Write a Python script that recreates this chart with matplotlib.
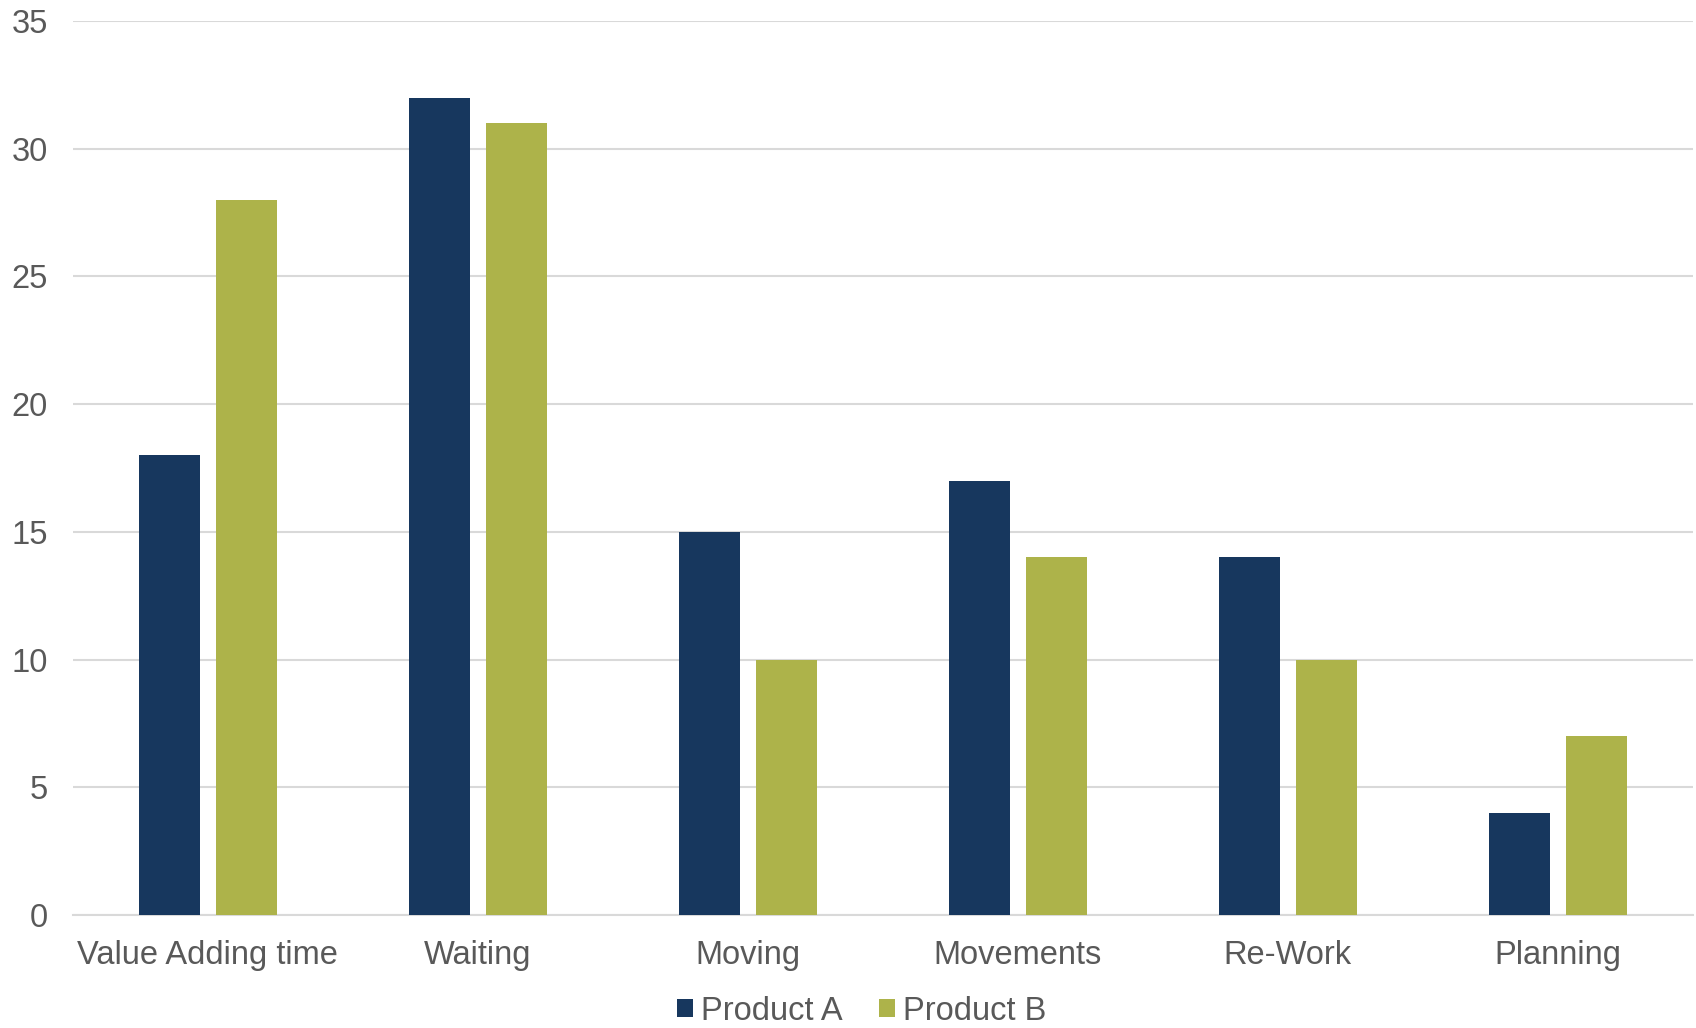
import matplotlib.pyplot as plt
import numpy as np

categories = ['Value Adding time', 'Waiting', 'Moving', 'Movements', 'Re-Work', 'Planning']
product_a = [18, 32, 15, 17, 14, 4]
product_b = [28, 31, 10, 14, 10, 7]
yticks = [0, 5, 10, 15, 20, 25, 30, 35]

plt.rcParams['font.family'] = ['Liberation Sans', 'DejaVu Sans']

fig = plt.figure(figsize=(16.96, 10.28), dpi=100)
ax = fig.add_axes([0.043, 0.110, 0.955, 0.8696])

x = np.arange(len(categories))
w = 0.226
ax.bar(x - 0.143, product_a, w, color='#17375E', label='Product A', zorder=3)
ax.bar(x + 0.143, product_b, w, color='#ADB34A', label='Product B', zorder=3)

ax.set_xlim(-0.5, len(categories) - 0.5)
ax.set_ylim(0, 35)
ax.set_yticks(yticks)
ax.set_xticks(x)
ax.set_xticklabels(categories)
ax.grid(axis='y', color='#D9D9D9', linewidth=1.5, zorder=0)
for s in ['top', 'right', 'left']:
    ax.spines[s].set_visible(False)
ax.spines['bottom'].set_color('#D9D9D9')
ax.spines['bottom'].set_linewidth(1.5)
ax.tick_params(axis='both', length=0, labelsize=23.5, labelcolor='#595959')
ax.tick_params(axis='y', pad=18)
ax.tick_params(axis='x', pad=18)

fig.legend(loc='center', bbox_to_anchor=(0.508, 0.0165), ncol=2, frameon=False,
           fontsize=23.5, labelcolor='#595959', handlelength=0.5, handleheight=0.5,
           handletextpad=0.25, columnspacing=1.1)

fig.savefig('out.png', dpi=100)
